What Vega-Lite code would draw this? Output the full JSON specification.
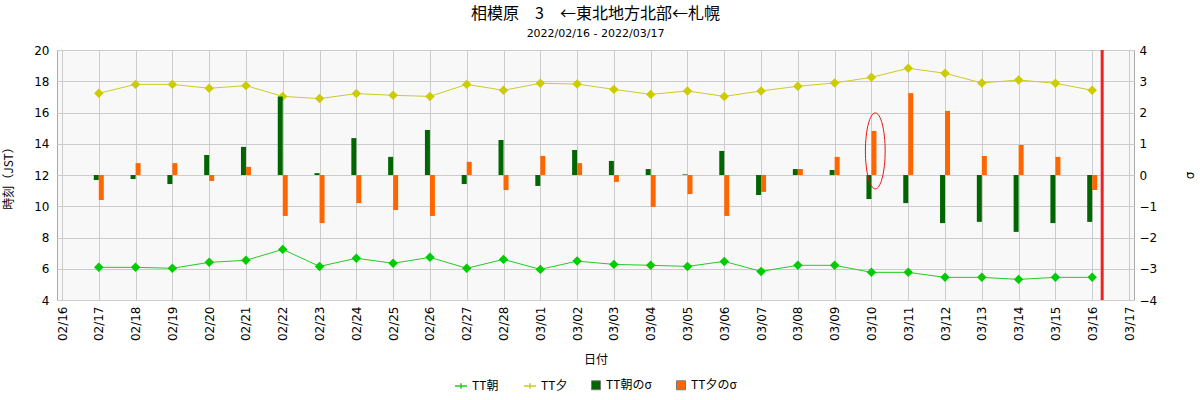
{
  "$schema": "https://vega.github.io/schema/vega-lite/v6.json",
  "title": {
    "text": "相模原　3　←東北地方北部←札幌",
    "subtitle": "2022/02/16 - 2022/03/17",
    "font": "Noto Sans CJK JP",
    "fontSize": 16,
    "fontWeight": "normal",
    "subtitleFont": "DejaVu Sans",
    "subtitleFontSize": 11,
    "subtitlePadding": 6,
    "offset": 5
  },
  "width": 1077,
  "height": 250,
  "padding": {"left": 2, "top": 6, "right": 5, "bottom": 5},
  "data": {
    "values": [
      {"date": "2022/02/17", "asa": 6.09, "yu": 17.23, "asa_sigma": -0.16, "yu_sigma": -0.80},
      {"date": "2022/02/18", "asa": 6.09, "yu": 17.80, "asa_sigma": -0.13, "yu_sigma": 0.38},
      {"date": "2022/02/19", "asa": 6.03, "yu": 17.80, "asa_sigma": -0.29, "yu_sigma": 0.38},
      {"date": "2022/02/20", "asa": 6.41, "yu": 17.55, "asa_sigma": 0.64, "yu_sigma": -0.19},
      {"date": "2022/02/21", "asa": 6.54, "yu": 17.72, "asa_sigma": 0.90, "yu_sigma": 0.26},
      {"date": "2022/02/22", "asa": 7.24, "yu": 17.03, "asa_sigma": 2.51, "yu_sigma": -1.31},
      {"date": "2022/02/23", "asa": 6.15, "yu": 16.89, "asa_sigma": 0.06, "yu_sigma": -1.54},
      {"date": "2022/02/24", "asa": 6.67, "yu": 17.21, "asa_sigma": 1.18, "yu_sigma": -0.90},
      {"date": "2022/02/25", "asa": 6.35, "yu": 17.10, "asa_sigma": 0.58, "yu_sigma": -1.12},
      {"date": "2022/02/26", "asa": 6.73, "yu": 17.03, "asa_sigma": 1.44, "yu_sigma": -1.31},
      {"date": "2022/02/27", "asa": 6.03, "yu": 17.80, "asa_sigma": -0.29, "yu_sigma": 0.42},
      {"date": "2022/02/28", "asa": 6.60, "yu": 17.42, "asa_sigma": 1.12, "yu_sigma": -0.48},
      {"date": "2022/03/01", "asa": 5.96, "yu": 17.87, "asa_sigma": -0.35, "yu_sigma": 0.61},
      {"date": "2022/03/02", "asa": 6.49, "yu": 17.82, "asa_sigma": 0.80, "yu_sigma": 0.38},
      {"date": "2022/03/03", "asa": 6.28, "yu": 17.48, "asa_sigma": 0.45, "yu_sigma": -0.22},
      {"date": "2022/03/04", "asa": 6.22, "yu": 17.16, "asa_sigma": 0.19, "yu_sigma": -1.02},
      {"date": "2022/03/05", "asa": 6.15, "yu": 17.38, "asa_sigma": 0.02, "yu_sigma": -0.61},
      {"date": "2022/03/06", "asa": 6.47, "yu": 17.03, "asa_sigma": 0.77, "yu_sigma": -1.31},
      {"date": "2022/03/07", "asa": 5.83, "yu": 17.38, "asa_sigma": -0.64, "yu_sigma": -0.54},
      {"date": "2022/03/08", "asa": 6.22, "yu": 17.68, "asa_sigma": 0.19, "yu_sigma": 0.19},
      {"date": "2022/03/09", "asa": 6.22, "yu": 17.89, "asa_sigma": 0.16, "yu_sigma": 0.58},
      {"date": "2022/03/10", "asa": 5.77, "yu": 18.25, "asa_sigma": -0.77, "yu_sigma": 1.41},
      {"date": "2022/03/11", "asa": 5.77, "yu": 18.83, "asa_sigma": -0.90, "yu_sigma": 2.62},
      {"date": "2022/03/12", "asa": 5.45, "yu": 18.51, "asa_sigma": -1.54, "yu_sigma": 2.05},
      {"date": "2022/03/13", "asa": 5.45, "yu": 17.89, "asa_sigma": -1.50, "yu_sigma": 0.61},
      {"date": "2022/03/14", "asa": 5.32, "yu": 18.08, "asa_sigma": -1.82, "yu_sigma": 0.96},
      {"date": "2022/03/15", "asa": 5.45, "yu": 17.87, "asa_sigma": -1.54, "yu_sigma": 0.58},
      {"date": "2022/03/16", "asa": 5.45, "yu": 17.42, "asa_sigma": -1.50, "yu_sigma": -0.48}
    ]
  },
  "encoding": {
    "x": {
      "field": "date",
      "type": "temporal",
      "title": "日付",
      "scale": {"domain": ["2022/02/16 00:00", "2022/03/17 00:00"], "nice": false},
      "axis": {
        "format": "%m/%d",
        "tickCount": {"interval": "day", "step": 1},
        "labelAngle": -90,
        "labelAlign": "right",
        "labelBaseline": "middle",
        "labelFont": "DejaVu Sans",
        "labelFontSize": 12,
        "labelPadding": 6,
        "labelOverlap": false,
        "titleFont": "Noto Sans CJK JP",
        "titleFontSize": 12,
        "titleFontWeight": "normal",
        "titlePadding": 14
      }
    }
  },
  "layer": [
    {
      "encoding": {
        "y": {
          "type": "quantitative",
          "title": "時刻（JST）",
          "scale": {"domain": [4, 20], "nice": false},
          "axis": {
            "orient": "left",
            "values": [4, 6, 8, 10, 12, 14, 16, 18, 20],
            "labelFont": "DejaVu Sans",
            "labelFontSize": 12,
            "labelPadding": 8,
            "titleFont": "Noto Sans CJK JP",
            "titleFontSize": 12,
            "titleFontWeight": "normal",
            "titlePadding": 18
          }
        }
      },
      "layer": [
        {
          "mark": {"type": "line", "strokeWidth": 1},
          "encoding": {
            "y": {"field": "asa"},
            "color": {
              "datum": "TT朝",
              "scale": {"domain": ["TT朝", "TT夕"], "range": ["#22cc22", "#cccc22"]},
              "legend": {
                "orient": "bottom",
                "direction": "horizontal",
                "title": null,
                "labelFont": "Noto Sans CJK JP",
                "labelFontSize": 12,
                "symbolType": "M-1,0L1,0M0,-0.45L0,0.45",
                "symbolSize": 144,
                "symbolStrokeWidth": 1.5,
                "columnPadding": 22,
                "offset": 13
              }
            }
          }
        },
        {
          "mark": {"type": "line", "strokeWidth": 1},
          "encoding": {
            "y": {"field": "yu"},
            "color": {"datum": "TT夕"}
          }
        },
        {
          "mark": {"type": "point", "shape": "diamond", "filled": true, "opacity": 1, "size": 90, "color": "#00cc00"},
          "encoding": {"y": {"field": "asa"}}
        },
        {
          "mark": {"type": "point", "shape": "diamond", "filled": true, "opacity": 1, "size": 90, "color": "#cccc00"},
          "encoding": {"y": {"field": "yu"}}
        }
      ]
    },
    {
      "encoding": {
        "y": {
          "type": "quantitative",
          "title": "σ",
          "scale": {"domain": [-4, 4], "nice": false},
          "axis": {
            "orient": "right",
            "values": [-4, -3, -2, -1, 0, 1, 2, 3, 4],
            "grid": false,
            "labelFont": "DejaVu Sans",
            "labelFontSize": 12,
            "labelPadding": 5,
            "titleFont": "DejaVu Sans",
            "titleFontSize": 12,
            "titleFontWeight": "normal",
            "titleAngle": 270,
            "titlePadding": 40
          }
        }
      },
      "layer": [
        {
          "mark": {"type": "bar", "width": 5, "xOffset": -2.5, "opacity": 1},
          "encoding": {
            "y": {"field": "asa_sigma"},
            "y2": {"datum": 0},
            "color": {
              "datum": "TT朝のσ",
              "scale": {"domain": ["TT朝のσ", "TT夕のσ"], "range": ["#006600", "#ff6600"]},
              "legend": {
                "orient": "bottom",
                "direction": "horizontal",
                "title": null,
                "labelFont": "Noto Sans CJK JP",
                "labelFontSize": 12,
                "symbolType": "square",
                "symbolSize": 80,
                "symbolStrokeColor": "#777777",
                "symbolStrokeWidth": 1,
                "columnPadding": 22,
                "offset": 13
              }
            }
          }
        },
        {
          "mark": {"type": "bar", "width": 5, "xOffset": 2.5, "opacity": 1},
          "encoding": {
            "y": {"field": "yu_sigma"},
            "y2": {"datum": 0},
            "color": {"datum": "TT夕のσ"}
          }
        },
        {
          "data": {"values": [{"date": "2022/03/10 02:30", "sigma": 0.77}]},
          "mark": {
            "type": "point",
            "shape": "M0,-1A0.26,1 0 1,1 0,1A0.26,1 0 1,1 0,-1Z",
            "filled": false,
            "color": "#ee1111",
            "strokeWidth": 1,
            "opacity": 1,
            "size": 5776
          },
          "encoding": {"y": {"field": "sigma"}}
        },
        {
          "data": {"values": [{"date": "2022/03/16 06:30"}]},
          "mark": {"type": "rule", "color": "#ee2222", "strokeWidth": 3},
          "encoding": {"y": null}
        }
      ]
    }
  ],
  "resolve": {"scale": {"y": "independent", "color": "independent"}},
  "config": {
    "view": {"fill": "#f8f8f8", "stroke": "#aaaaaa"},
    "legend": {"layout": {"bottom": {"anchor": "middle", "direction": "horizontal", "margin": 22}}},
    "axis": {
      "gridColor": "#cccccc",
      "gridOpacity": 1,
      "ticks": false,
      "domain": false,
      "labelColor": "#000000",
      "titleColor": "#000000"
    }
  }
}
